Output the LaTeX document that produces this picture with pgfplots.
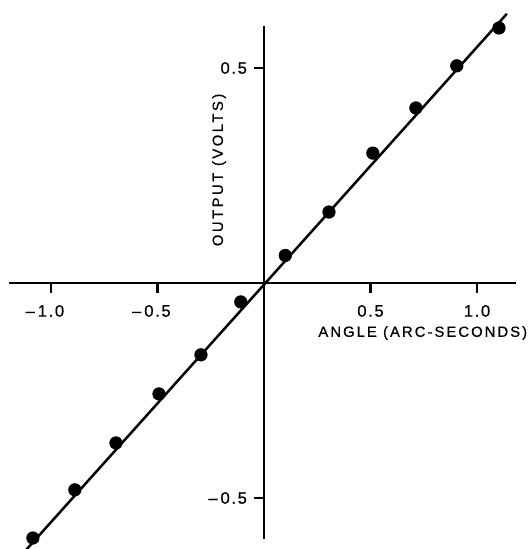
\documentclass[border=0pt]{standalone}
\usepackage{pgfplots}
\pgfplotsset{compat=1.18}
\usepackage{fontspec}
\setmainfont{Liberation Sans}
\newfontfamily\ticfont{Liberation Sans}[LetterSpace=10, FakeBold=0.6]
\newfontfamily\labfont{Liberation Sans}[LetterSpace=14, FakeBold=0.6]
\newfontfamily\ylabfont{Liberation Sans}[LetterSpace=17, FakeBold=0.6]
\begin{document}
\begin{tikzpicture}
\begin{axis}[
  x=106.5pt, y=215pt,
  axis lines=middle,
  xmin=-1.197, xmax=1.185, ymin=-0.595, ymax=0.598,
  axis line style={line width=1pt, -},
  clip=false,
  xtick={-1,-0.5,0.5,1},
  xticklabels={\llap{\textendash\hspace{1.5pt}}1.0,\llap{\textendash\hspace{1.5pt}}0.5,0.5,1.0},
  ytick={-0.5,0.5},
  yticklabels={\textendash\hspace{1.5pt}0.5,0.5},
  major tick length=0pt,
  xticklabel style={font=\fontsize{8.3}{9}\ticfont, anchor=north, yshift=-7.5pt},
  yticklabel style={font=\fontsize{8.3}{9}\ticfont, anchor=east, xshift=-5pt},
]
\addplot[black, line width=1.25pt, no marks] coordinates {(-1.13,-0.628) (1.14,0.626)};
\addplot[only marks, mark=*, mark size=3.1pt, black] coordinates {
(-1.085,-0.593) (-0.888,-0.481) (-0.695,-0.372) (-0.493,-0.258) (-0.296,-0.167) (-0.109,-0.044)
(0.100,0.064) (0.305,0.165) (0.511,0.302) (0.713,0.407) (0.905,0.505) (1.103,0.593)};
\addplot[black, line width=1.1pt, forget plot] coordinates {(-1,0) (-1,-0.0233)};
\addplot[black, line width=1.1pt, forget plot] coordinates {(-0.5,0) (-0.5,-0.0233)};
\addplot[black, line width=1.1pt, forget plot] coordinates {(0.5,0) (0.5,-0.0233)};
\addplot[black, line width=1.1pt, forget plot] coordinates {(1,0) (1,-0.0233)};
\addplot[black, line width=1.1pt, forget plot] coordinates {(0,0.5) (-0.047,0.5)};
\addplot[black, line width=1.1pt, forget plot] coordinates {(0,-0.5) (-0.047,-0.5)};
\node[anchor=west, font=\fontsize{7.4}{8}\labfont, inner sep=0pt] at (axis cs:0.2535,-0.1163) {ANGLE (ARC-SECONDS)};
\node[rotate=90, font=\fontsize{7.4}{8}\ylabfont, inner sep=0pt] at (axis cs:-0.211,0.263) {OUTPUT (VOLTS)};
\coordinate (bl) at (axis cs:-1.2394,-0.6186);
\coordinate (tr) at (axis cs:1.2488,0.6581);
\end{axis}
\pgfresetboundingbox
\path[use as bounding box] (bl) rectangle (tr);
\end{tikzpicture}
\end{document}
